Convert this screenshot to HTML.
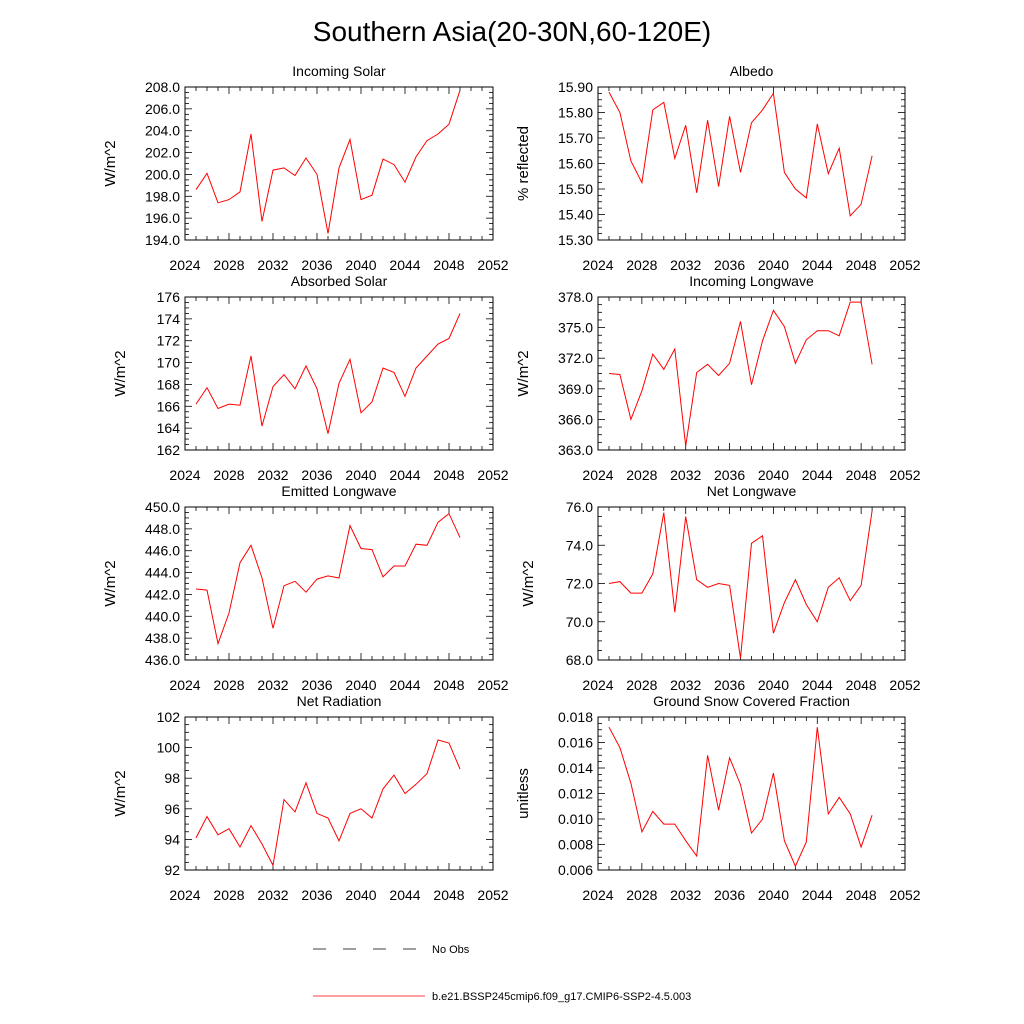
<!DOCTYPE html>
<html><head><meta charset="utf-8"><style>
body{margin:0;background:#fff;}
svg{display:block;font-family:"Liberation Sans",sans-serif;}
</style></head><body>
<svg id="chart" width="1024" height="1024" viewBox="0 0 1024 1024">
<text x="512" y="41" font-size="28" text-anchor="middle">Southern Asia(20-30N,60-120E)</text>
<g>
<line x1="313" y1="949" x2="418" y2="949" stroke="#000" stroke-width="0.8" stroke-dasharray="13,17"/>
<text x="432" y="953" font-size="11">No Obs</text>
<line x1="313" y1="996" x2="425" y2="996" stroke="red" stroke-width="0.8"/>
<text x="432" y="1000" font-size="11">b.e21.BSSP245cmip6.f09_g17.CMIP6-SSP2-4.5.003</text>
</g>
</svg>
<script>
const years = [2025,2026,2027,2028,2029,2030,2031,2032,2033,2034,2035,2036,2037,2038,2039,2040,2041,2042,2043,2044,2045,2046,2047,2048,2049];
const xTicks = [2024,2028,2032,2036,2040,2044,2048,2052];
const incomingSolar = [198.6,200.1,197.4,197.7,198.4,203.7,195.7,200.4,200.6,199.9,201.5,200.0,194.6,200.6,203.2,197.7,198.1,201.4,200.9,199.3,201.6,203.1,203.7,204.6,207.7];
const albedo = [15.88,15.80,15.61,15.525,15.81,15.84,15.62,15.75,15.485,15.77,15.51,15.785,15.565,15.76,15.81,15.875,15.565,15.50,15.465,15.755,15.56,15.66,15.395,15.44,15.63];
const absorbedSolar = [166.2,167.7,165.8,166.2,166.1,170.6,164.2,167.8,168.9,167.6,169.7,167.6,163.5,168.1,170.3,165.4,166.4,169.5,169.1,166.9,169.5,170.6,171.7,172.2,174.5];
const incomingLW = [370.5,370.4,366.0,368.8,372.4,370.9,372.9,363.4,370.6,371.4,370.3,371.5,375.6,369.4,373.7,376.7,375.1,371.5,373.8,374.7,374.7,374.2,377.5,377.5,371.4];
const emittedLW = [442.5,442.4,437.5,440.3,444.9,446.5,443.5,438.9,442.8,443.2,442.2,443.4,443.7,443.5,448.3,446.2,446.1,443.6,444.6,444.6,446.6,446.5,448.6,449.4,447.2];
const netLW = [72.0,72.1,71.5,71.5,72.5,75.7,70.5,75.5,72.2,71.8,72.0,71.9,68.1,74.1,74.5,69.4,71.0,72.2,70.9,70.0,71.8,72.3,71.1,71.9,75.8];
const netRad = [94.1,95.5,94.3,94.7,93.5,94.9,93.7,92.3,96.6,95.8,97.7,95.7,95.4,93.9,95.7,96.0,95.4,97.3,98.2,97.0,97.6,98.3,100.5,100.3,98.6];
const snowFrac = [0.0172,0.0156,0.0128,0.0090,0.0106,0.0096,0.0096,0.0083,0.0071,0.0150,0.0107,0.0148,0.0127,0.0089,0.0100,0.0136,0.0083,0.0063,0.0082,0.0172,0.0104,0.0117,0.0104,0.0078,0.0103];

const panels = [
 {name:'incoming-solar',title:'Incoming Solar',ylab:'W/m^2',data:incomingSolar,min:194,max:208,step:2,dec:1,col:0,row:0},
 {name:'albedo',title:'Albedo',ylab:'% reflected',data:albedo,min:15.3,max:15.9,step:0.1,dec:2,col:1,row:0},
 {name:'absorbed-solar',title:'Absorbed Solar',ylab:'W/m^2',data:absorbedSolar,min:162,max:176,step:2,dec:0,col:0,row:1},
 {name:'incoming-longwave',title:'Incoming Longwave',ylab:'W/m^2',data:incomingLW,min:363,max:378,step:3,dec:1,col:1,row:1},
 {name:'emitted-longwave',title:'Emitted Longwave',ylab:'W/m^2',data:emittedLW,min:436,max:450,step:2,dec:1,col:0,row:2},
 {name:'net-longwave',title:'Net Longwave',ylab:'W/m^2',data:netLW,min:68,max:76,step:2,dec:1,col:1,row:2},
 {name:'net-radiation',title:'Net Radiation',ylab:'W/m^2',data:netRad,min:92,max:102,step:2,dec:0,col:0,row:3},
 {name:'snow-fraction',title:'Ground Snow Covered Fraction',ylab:'unitless',data:snowFrac,min:0.006,max:0.018,step:0.002,dec:3,col:1,row:3}
];
const NS='http://www.w3.org/2000/svg';
const svg=document.getElementById('chart');
function mk(tag,attrs,parent){const e=document.createElementNS(NS,tag);for(const k in attrs)e.setAttribute(k,attrs[k]);parent.appendChild(e);return e;}
panels.forEach(p=>{
  const x0=p.col?598:185, x1=p.col?905:493, y0=87+p.row*210, y1=y0+153;
  const g=mk('g',{},svg);
  
  
  const xs=v=>x0+(v-2024)/(2052-2024)*(x1-x0);
  const ys=v=>y1-(v-p.min)/(p.max-p.min)*(y1-y0);
  const t=mk('text',{x:(x0+x1)/2,y:y0-11,'font-size':14,'text-anchor':'middle'},g);t.textContent=p.title;
  
  
  const maxChars=Math.max(p.min.toFixed(p.dec).length,p.max.toFixed(p.dec).length);
  const off=45+maxChars*5;
  const yl=mk('text',{x:0,y:0,'font-size':15,'text-anchor':'middle',transform:`translate(${x0-off},${(y0+y1)/2}) rotate(-90)`},g);yl.textContent=p.ylab;
  
  
  for(let yr=2024;yr<=2052;yr++){const X=xs(yr);const L=(yr%4===0)?7:4;
    mk('line',{x1:X,y1:y1,x2:X,y2:y1-L,stroke:'#000','stroke-width':0.8},g);
    mk('line',{x1:X,y1:y0,x2:X,y2:y0+L,stroke:'#000','stroke-width':0.8},g);}
  xTicks.forEach(v=>{const tx=mk('text',{x:xs(v),y:y1+30,'font-size':14,'text-anchor':'middle'},g);tx.textContent=v;
    
    });
  const n=Math.round((p.max-p.min)/p.step);
  for(let i=0;i<=n*4;i++){const v=p.min+i*p.step/4;const Y=ys(v);const L=(i%4===0)?7:4;
    mk('line',{x1:x0,y1:Y,x2:x0+L,y2:Y,stroke:'#000','stroke-width':0.8},g);
    mk('line',{x1:x1,y1:Y,x2:x1-L,y2:Y,stroke:'#000','stroke-width':0.8},g);}
  for(let i=0;i<=n;i++){const v=p.min+i*p.step;const ty=mk('text',{x:x0-5,y:ys(v)+5,'font-size':14,'text-anchor':'end'},g);ty.textContent=v.toFixed(p.dec);
    
    }
  const r=mk('rect',{x:x0,y:y0,width:x1-x0,height:y1-y0,fill:'none',stroke:'#000','stroke-width':1},g);
  
  
  const pts=p.data.map((v,i)=>xs(years[i]).toFixed(1)+','+ys(v).toFixed(1)).join(' ');
  const pl=mk('polyline',{points:pts,fill:'none',stroke:'red','stroke-width':1},g);
  
  
});
</script>
</body></html>
